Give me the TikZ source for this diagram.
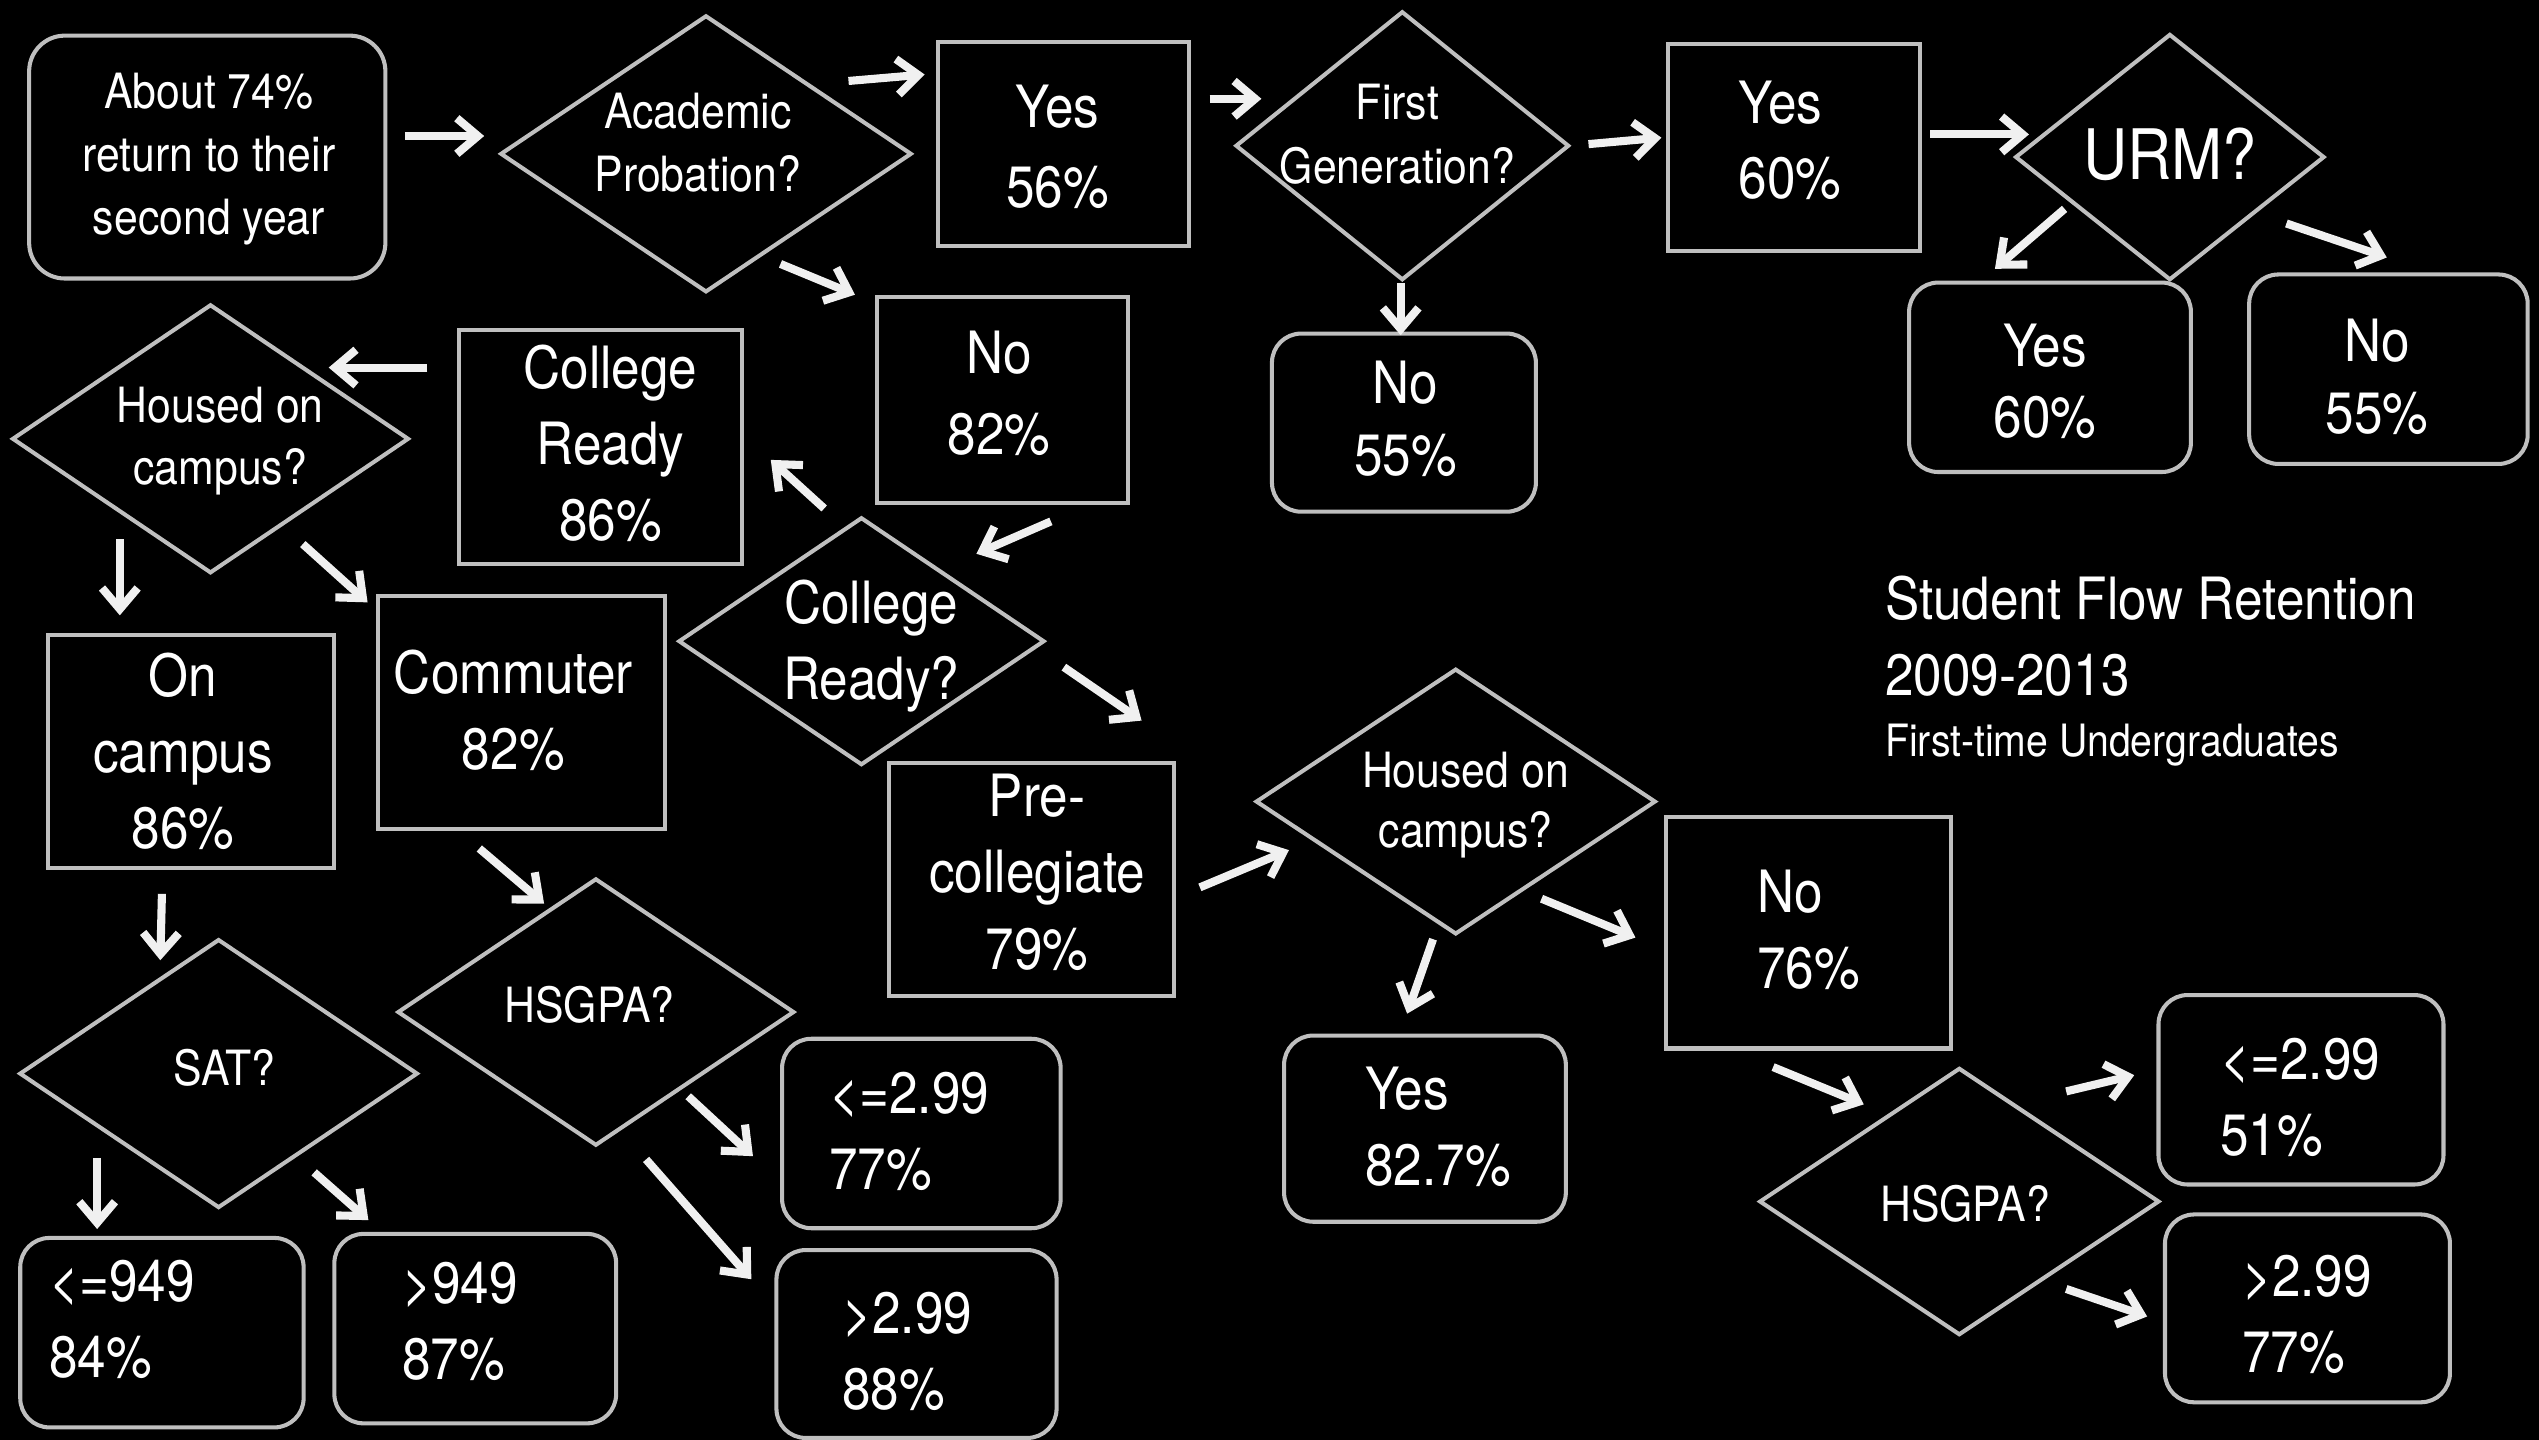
\documentclass[tikz,border=0pt]{standalone}
\usepackage{fontspec}
\setmainfont{TeX Gyre Heros}[FakeStretch=0.88]
\usetikzlibrary{shapes.geometric,arrows.meta}

\tikzset{
  chalk/.style={draw=white!75!black, line width=2.5pt, inner sep=0pt, outer sep=0pt},
  sbox/.style={chalk, rectangle},
  rbox/.style={chalk, rectangle, rounded corners=18pt},
  dia/.style={chalk, diamond},
  arr/.style={draw=white!94!black, line width=5pt, -{Straight Barb[length=13pt,width=22pt]}},
  txt/.style={text=white, inner sep=0pt},
  big/.style={txt, font=\fontsize{36}{47}\selectfont},
  mid/.style={txt, font=\fontsize{30}{39}\selectfont},
}

\begin{document}
\begin{tikzpicture}[x=1pt,y=-1pt]

\fill[black] (0,0) rectangle (1568,889);
\useasboundingbox (0,0) rectangle (1568,889);

% top row
\node[rbox, rounded corners=22pt, minimum width=220pt, minimum height=150pt] (start) at (128,97) {};
\node[mid, align=center, anchor=north] (tstart) at (129,45) {About 74\%\\return to their\\second year};

\node[dia, minimum width=253pt, minimum height=170pt] (ap) at (436,95) {};
\node[mid, align=center, anchor=north] (tap) at (431,57) {Academic\\Probation?};

\node[sbox, minimum width=155pt, minimum height=126pt] (yes56) at (657,89) {};
\node[big, font=\fontsize{36}{50}\selectfont, align=center, anchor=north] (tyes56) at (653,52) {Yes\\56\%};

\node[dia, minimum width=205pt, minimum height=165pt] (fg) at (866,90) {};
\node[mid, align=center, anchor=north] (tfg) at (863,52) {First\\Generation?};

\node[sbox, minimum width=156pt, minimum height=128pt] (yes60) at (1108,91) {};
\node[big, font=\fontsize{36}{46}\selectfont, align=left, anchor=north west] (tyes60) at (1073.5,50) {Yes\\60\%};

\node[dia, minimum width=190pt, minimum height=151pt] (urm) at (1340,97) {};
\node[txt, font=\fontsize{43}{50}\selectfont, anchor=north] (turm) at (1340,79) {URM?};

\node[rbox, minimum width=174pt, minimum height=117pt] (urmy) at (1266,233) {};
\node[big, font=\fontsize{36}{44}\selectfont, align=center, anchor=north] (turmy) at (1263,200) {Yes\\60\%};

\node[rbox, minimum width=172pt, minimum height=117pt] (urmn) at (1475,228) {};
\node[big, font=\fontsize{36}{44}\selectfont, align=center, anchor=north] (turmn) at (1468,197) {No\\55\%};

\node[rbox, minimum width=163pt, minimum height=110pt] (fgn) at (867,261) {};
\node[big, font=\fontsize{36}{44}\selectfont, align=center, anchor=north] (tfgn) at (868,223) {No\\55\%};

% middle
\node[sbox, minimum width=155pt, minimum height=127pt] (no82) at (619,247) {};
\node[big, font=\fontsize{36}{50}\selectfont, align=center, anchor=north] (tno82) at (617,204) {No\\82\%};

\node[dia, minimum width=225pt, minimum height=152pt] (crq) at (532,396) {};
\node[big, align=center, anchor=north] (tcrq) at (538,358) {College\\Ready?};

\node[sbox, minimum width=175pt, minimum height=145pt] (crb) at (371,276) {};
\node[big, align=center, anchor=north] (tcrb) at (377,213) {College\\Ready\\86\%};

\node[dia, minimum width=244pt, minimum height=165pt] (hl) at (130,271) {};
\node[mid, font=\fontsize{30}{38}\selectfont, align=center, anchor=north] (thl) at (136,239) {Housed on\\campus?};

\node[sbox, minimum width=177pt, minimum height=144pt] (onc) at (118,464) {};
\node[big, align=center, anchor=north] (tonc) at (113,403) {On\\campus\\86\%};

\node[sbox, minimum width=177pt, minimum height=144pt] (com) at (322,440) {};
\node[big, align=center, anchor=north] (tcom) at (317,401) {Commuter\\82\%};

% bottom left
\node[dia, minimum width=245pt, minimum height=165pt] (sat) at (135,663) {};
\node[mid, anchor=north] (tsat) at (138.6,647.5) {SAT?};

\node[rbox, minimum width=175pt, minimum height=117pt] (s1) at (100,823) {};
\node[big, align=left, anchor=north west] (ts1) at (30.3,778) {<=949\\84\%};

\node[rbox, minimum width=174pt, minimum height=117pt] (s2) at (293.5,820.5) {};
\node[big, align=left, anchor=north west] (ts2) at (248.3,779) {>949\\87\%};

\node[dia, minimum width=244pt, minimum height=164pt] (hm) at (368,625) {};
\node[mid, anchor=north] (thm) at (364,609) {HSGPA?};

\node[rbox, minimum width=172pt, minimum height=117pt] (h1) at (569,700) {};
\node[big, align=left, anchor=north west] (th1) at (512,662) {<=2.99\\77\%};

\node[rbox, minimum width=173pt, minimum height=116pt] (h2) at (566,830) {};
\node[big, align=left, anchor=north west] (th2) at (520,798) {>2.99\\88\%};

% right side
\node[sbox, minimum width=176pt, minimum height=144pt] (pre) at (637,543) {};
\node[big, align=center, anchor=north] (tpre) at (640.5,478) {Pre-\\collegiate\\79\%};

\node[dia, minimum width=246pt, minimum height=163pt] (hr) at (899,495) {};
\node[mid, font=\fontsize{30}{37.5}\selectfont, align=center, anchor=north] (thr) at (905,464) {Housed on\\campus?};

\node[rbox, minimum width=174pt, minimum height=115pt] (hry) at (880,697) {};
\node[big, font=\fontsize{36}{46.5}\selectfont, align=left, anchor=north west] (thry) at (843,659) {Yes\\82.7\%};

\node[sbox, minimum width=176pt, minimum height=143pt] (hrn) at (1117,576) {};
\node[big, align=left, anchor=north west] (thrn) at (1085,537) {No\\76\%};

\node[dia, minimum width=246pt, minimum height=164pt] (hg) at (1210,742) {};
\node[mid, anchor=north] (thg) at (1213.6,732) {HSGPA?};

\node[rbox, minimum width=176pt, minimum height=117pt] (g1) at (1421,673) {};
\node[big, align=left, anchor=north west] (tg1) at (1371,641) {<=2.99\\51\%};

\node[rbox, minimum width=176pt, minimum height=116pt] (g2) at (1425,808) {};
\node[big, align=left, anchor=north west] (tg2) at (1384.5,775) {>2.99\\77\%};

% title
\node[big, anchor=base west] (title) at (1164,382.4) {Student Flow Retention};
\node[big, anchor=base west] (years) at (1164,429.3) {2009-2013};
\node[txt, font=\fontsize{27.5}{34}\selectfont, anchor=base west] (subtitle) at (1164,467.4) {First-time Undergraduates};

% arrows
\draw[arr] ([shift={(122,-13)}]start.center) -- ([shift={(-137,-11)}]ap.center);
\draw[arr] ([shift={(88,-45)}]ap.center) -- ([shift={(-86,-43)}]yes56.center);
\draw[arr] ([shift={(46,68)}]ap.center) -- ([shift={(-91,-65)}]no82.center);
\draw[arr] ([shift={(90,-28)}]yes56.center) -- ([shift={(-87,-29)}]fg.center);
\draw[arr] ([shift={(-1,85)}]fg.center) -- ([shift={(-2,-54)}]fgn.center);
\draw[arr] ([shift={(115,-1)}]fg.center) -- ([shift={(-82,-6)}]yes60.center);
\draw[arr] ([shift={(84,-8)}]yes60.center) -- ([shift={(-87,-14)}]urm.center);
\draw[arr] ([shift={(-65,32)}]urm.center) -- ([shift={(-34,-67)}]urmy.center);
\draw[arr] ([shift={(72,41)}]urm.center) -- ([shift={(-1,-69)}]urmn.center);
\draw[arr] ([shift={(30,75)}]no82.center) -- ([shift={(71,-54)}]crq.center);
\draw[arr] ([shift={(-23,-82)}]crq.center) -- ([shift={(105,8)}]crb.center);
\draw[arr] ([shift={(-107,-49)}]crb.center) -- ([shift={(73,-44)}]hl.center);
\draw[arr] ([shift={(-56,62)}]hl.center) -- ([shift={(-44,-84)}]onc.center);
\draw[arr] ([shift={(57,65)}]hl.center) -- ([shift={(-95,-68)}]com.center);
\draw[arr] ([shift={(-18,88)}]onc.center) -- ([shift={(-36,-70)}]sat.center);
\draw[arr] ([shift={(-26,84)}]com.center) -- ([shift={(-32,-67)}]hm.center);
\draw[arr] ([shift={(-75,52)}]sat.center) -- ([shift={(-40,-64)}]s1.center);
\draw[arr] ([shift={(59,61)}]sat.center) -- ([shift={(-66,-67)}]s2.center);
\draw[arr] ([shift={(57,52)}]hm.center) -- ([shift={(-104,14)}]h1.center);
\draw[arr] ([shift={(31,91)}]hm.center) -- ([shift={(-102,-40)}]h2.center);
\draw[arr] ([shift={(125,16)}]crq.center) -- ([shift={(68,-98)}]pre.center);
\draw[arr] ([shift={(104,5)}]pre.center) -- ([shift={(-103,30)}]hr.center);
\draw[arr] ([shift={(-14,85)}]hr.center) -- ([shift={(-11,-71)}]hry.center);
\draw[arr] ([shift={(53,60)}]hr.center) -- ([shift={(-107,3)}]hrn.center);
\draw[arr] ([shift={(-22,83)}]hrn.center) -- ([shift={(-59,-60)}]hg.center);
\draw[arr] ([shift={(66,-68)}]hg.center) -- ([shift={(-103,-9)}]g1.center);
\draw[arr] ([shift={(66,54)}]hg.center) -- ([shift={(-99,5)}]g2.center);

\end{tikzpicture}
\end{document}
